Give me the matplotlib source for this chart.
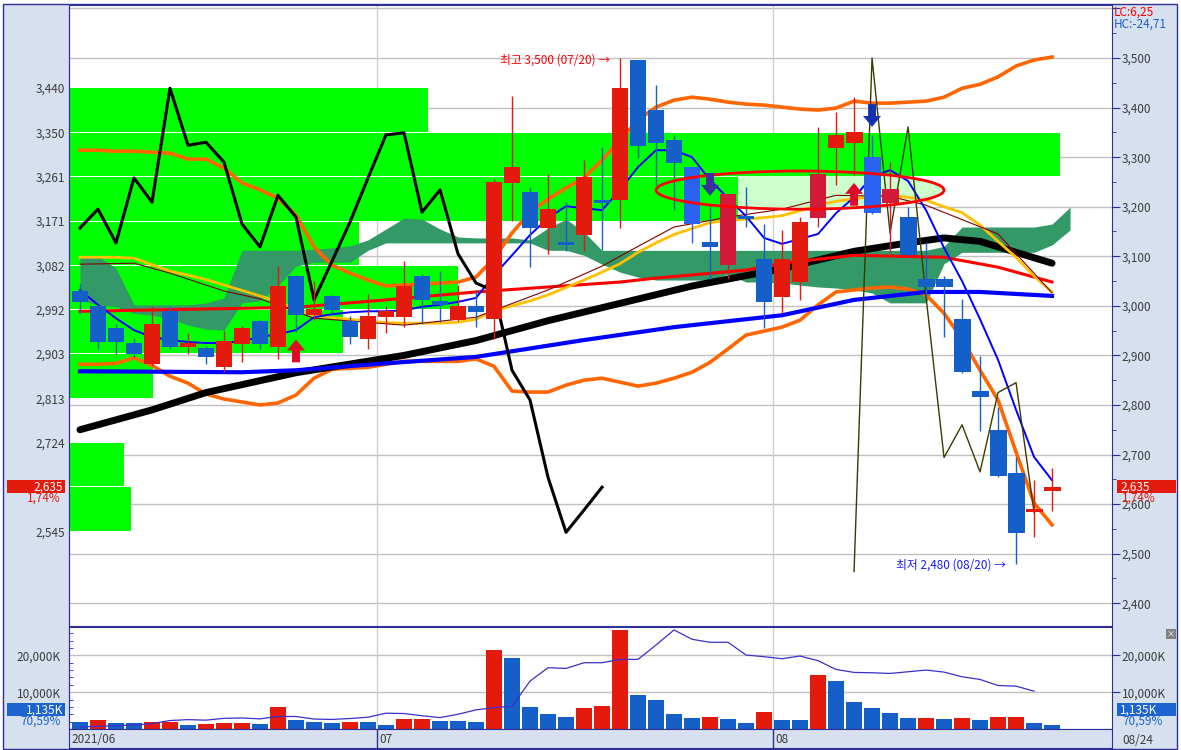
import numpy as np
import pandas as pd
import matplotlib
matplotlib.use("Agg")
import matplotlib.pyplot as plt
from matplotlib.patches import Rectangle, Ellipse, Polygon
from matplotlib.ticker import MultipleLocator
from matplotlib.transforms import blended_transform_factory as blend

plt.rcParams['font.family'] = ['Noto Sans CJK KR', 'DejaVu Sans']

# sessions shown (08/16 was the Liberation Day substitute holiday)
dates = pd.bdate_range("2021-06-08", "2021-08-24")
dates = dates[dates != pd.Timestamp("2021-08-16")]

opens = [3030, 3000, 2956, 2925, 2883, 2990, 2917, 2915, 2877, 2923,
         2970, 2917, 3060, 2982, 3020, 2970, 2934, 2978, 2978, 3060,
         3010, 2972, 3000, 2974, 3248, 3230, 3157, 3129, 3143, 3212,
         3214, 3496, 3395, 3335, 3280, 3129, 3083, 3180, 3095, 3018,
         3048, 3177, 3319, 3329, 3300, 3208, 3179, 3054, 3054, 2974,
         2829, 2750, 2663, 2585, 2627]
highs = [3044, 3002, 2964, 2936, 3000, 3000, 2946, 2919, 2950, 2960,
         2972, 3081, 3062, 3050, 3022, 2980, 3024, 3000, 3091, 3064,
         3071, 3042, 3032, 3256, 3423, 3240, 3266, 3210, 3294, 3321,
         3500, 3496, 3446, 3345, 3282, 3206, 3226, 3240, 3165, 3153,
         3179, 3361, 3391, 3421, 3345, 3290, 3200, 3129, 3060, 3014,
         2899, 2796, 2696, 2649, 2673]
lows = [2984, 2913, 2903, 2897, 2879, 2913, 2903, 2883, 2867, 2887,
        2913, 2893, 2948, 2972, 2982, 2923, 2913, 2946, 2958, 2964,
        2968, 2970, 2958, 2934, 3171, 3079, 3105, 3111, 3111, 3113,
        3157, 3298, 3244, 3194, 3127, 3054, 3054, 3159, 2956, 2986,
        3012, 3159, 3244, 3264, 3186, 3107, 3101, 3018, 2938, 2865,
        2748, 2655, 2480, 2534, 2587]
closes = [3008, 2927, 2927, 2903, 2964, 2917, 2925, 2897, 2929, 2956,
          2923, 3040, 2982, 2994, 2992, 2938, 2980, 2990, 3040, 3012,
          3002, 3000, 2988, 3250, 3280, 3157, 3196, 3123, 3260, 3208,
          3440, 3323, 3329, 3288, 3165, 3119, 3226, 3176, 3008, 3095,
          3169, 3266, 3345, 3351, 3188, 3236, 3103, 3038, 3038, 2867,
          2817, 2657, 2542, 2590, 2635]

# volume in thousand shares, and its moving average
volume = [1818, 2364, 1545, 1540, 1818, 1909, 1000, 1273, 1545, 1550,
          1273, 5909, 2364, 1818, 1545, 1818, 1800, 1000, 2636, 2650,
          2091, 2080, 1818, 21455, 19273, 5909, 4000, 3182, 5636, 6182,
          26909, 9182, 7818, 4000, 2909, 3182, 2636, 1545, 4545, 2364,
          2350, 14636, 13000, 7273, 5636, 4273, 2909, 2920, 2636, 2909,
          2364, 3182, 3200, 1608, 1135.1]
vol_ma = [545, 727, 909, 1091, 1455, 2300, 2545, 2400, 2900, 3000,
          2750, 3400, 3400, 2700, 2600, 2850, 3200, 4300, 4200, 3600,
          3091, 4000, 5200, 5800, 6182, 13000, 16636, 16455, 18000, 18000,
          18909, 18909, 22818, 26909, 24364, 23545, 23545, 20091, 19636, 19091,
          19818, 18545, 16182, 15364, 15273, 15091, 15545, 16000, 15455, 14182,
          13455, 11818, 11636, 10273]

ma5 = [3032, 3002, 2975, 2951, 2937, 2931, 2927, 2925, 2925, 2929,
       2937, 2943, 2951, 2977, 2983, 2987, 2989, 2989, 2991, 2998,
       3002, 3008, 3016, 3062, 3102, 3143, 3177, 3201, 3197, 3193,
       3234, 3280, 3314, 3314, 3300, 3254, 3217, 3181, 3137, 3125,
       3135, 3145, 3187, 3219, 3260, 3274, 3252, 3193, 3117, 3050,
       2973, 2891, 2790, 2695, 2648]
bb_upper = [3314, 3314, 3312, 3312, 3310, 3308, 3296, 3296, 3278, 3248,
            3234, 3217, 3183, 3119, 3082, 3066, 3052, 3040, 3042, 3044,
            3046, 3048, 3058, 3096, 3147, 3189, 3215, 3238, 3258, 3294,
            3334, 3375, 3401, 3415, 3421, 3417, 3411, 3407, 3405, 3401,
            3397, 3395, 3399, 3413, 3409, 3409, 3411, 3413, 3421, 3439,
            3447, 3462, 3484, 3496, 3502]
bb_lower = [2882, 2882, 2884, 2895, 2880, 2858, 2844, 2822, 2812, 2806,
            2800, 2804, 2820, 2854, 2872, 2874, 2876, 2882, 2888, 2888,
            2888, 2888, 2893, 2878, 2828, 2826, 2826, 2840, 2850, 2854,
            2846, 2838, 2844, 2854, 2866, 2886, 2913, 2941, 2949, 2957,
            2971, 3002, 3028, 3032, 3036, 3038, 3034, 3022, 2985, 2933,
            2870, 2810, 2705, 2602, 2558]
ma_yellow = [3098, 3098, 3098, 3096, 3083, 3070, 3062, 3053, 3042, 3031,
             3020, 3008, 2994, 2980, 2976, 2973, 2969, 2966, 2965, 2965,
             2965, 2967, 2973, 2990, 3000, 3010, 3022, 3037, 3052, 3068,
             3085, 3108, 3127, 3144, 3156, 3168, 3172, 3175, 3178, 3182,
             3192, 3203, 3211, 3216, 3220, 3223, 3219, 3213, 3200, 3188,
             3163, 3130, 3098, 3060, 3028]
maroon_idx = [0, 3, 5, 8, 10, 13, 18, 22, 23, 26, 29, 31, 33, 36, 39, 42, 45, 47, 51, 54]
maroon_val = [3084, 3086, 3066, 3030, 3014, 2975, 2961, 2977, 2991, 3032,
              3080, 3120, 3159, 3179, 3195, 3223, 3221, 3203, 3145, 3026]
red_idx = [0, 12, 17, 22, 30, 32, 37, 39, 43, 48, 51, 54]
red_val = [2989, 2997, 3012, 3028, 3048, 3056, 3072, 3086, 3102, 3098, 3078, 3048]
black_idx = [0, 4, 7, 12, 18, 22, 26, 30, 34, 39, 43, 46, 48, 50, 52, 54]
black_val = [2750, 2790, 2825, 2865, 2900, 2930, 2970, 3005, 3040, 3075,
             3110, 3127, 3137, 3130, 3108, 3086]
blue_idx = [0, 9, 12, 17, 22, 28, 33, 39, 43, 47, 50, 54]
blue_val = [2868, 2866, 2870, 2884, 2897, 2931, 2957, 2981, 3012, 3028, 3028, 3020]

zigzag = [3157, 3195, 3127, 3258, 3209, 3439, 3324, 3330, 3290, 3165,
          3119, 3223, 3179, 3012, 3090, 3169, 3258, 3345, 3349, 3189,
          3234, 3105, 3046, 3030, 2870, 2810, 2654, 2543, 2588, 2634]
olive_start = 43
olive = [2464, 3500, 3147, 3361, 3018, 2694, 2760, 2665, 2825, 2845, 2583]

cloud_top = [3098, 3100, 3076, 3002, 3002, 3002, 3002, 3006, 3016,
             3112, 3112, 3112, 3112, 3114, 3117, 3121,
             3133, 3155, 3177, 3175, 3155, 3139, 3137, 3137, 3137, 3133, 3157, 3175, 3149,
             3112, 3112, 3112, 3112, 3112, 3112, 3112, 3112, 3112, 3112,
             3112, 3112, 3112, 3112, 3112, 3112, 3112, 3112, 3112,
             3120, 3159, 3159, 3159, 3159, 3159, 3165, 3199]
cloud_bot = [3012, 3002, 2998, 2985, 2981, 2975, 2961, 2953, 2951,
             3006, 3010, 3040, 3080, 3088, 3088, 3088,
             3112, 3127, 3127, 3127, 3127, 3127, 3127, 3127, 3127, 3127, 3112, 3112,
             3102, 3084, 3068, 3058, 3052, 3052, 3052, 3052, 3064, 3048, 3048,
             3046, 3042, 3038, 3036, 3032, 3026, 3006, 3006, 3006,
             3085, 3108, 3108, 3108, 3108, 3108, 3123, 3153]

# price-by-volume bins (edge prices) and share of the panel width (%)
profile_edges = [2545, 2635, 2724, 2813, 2903, 2992, 3082, 3171, 3261, 3350, 3440]
profile_share = [5.9, 5.3, 0, 8.1, 26.3, 37.3, 27.8, 64.1, 95.0, 34.4]

# signal arrows and highlighted zone
sig_idx = [12, 35, 43, 44]
sig_buy = [True, False, True, False]
zone_slots = (32, 48)
zone_prices = (3195, 3272)

W, H = 1181, 750
PANEL = "#d6e0ef"
EDGE = "#2f2f96"
RED = "#e41b0c"
BLUE = "#1560c8"
GRID = "#c0c0c0"
TXT = "#3c3c3c"
FS = 8.5

fig = plt.figure(figsize=(W / 100, H / 100), dpi=100)
fig.patch.set_facecolor("white")
fig.add_artist(Rectangle((3 / W, 1 / H), 1174 / W, 745 / H, transform=fig.transFigure,
                         fc=PANEL, ec=EDGE, lw=1, zorder=-5))


def box(x0, y0, x1, y1):
    return [x0 / W, 1 - y1 / H, (x1 - x0) / W, (y1 - y0) / H]


ax = fig.add_axes(box(69, 5, 1112, 626))
axv = fig.add_axes(box(69, 627, 1112, 729), sharex=ax)
axd = fig.add_axes(box(69, 729, 1112, 748), sharex=ax)

n = len(dates)
x = np.arange(n)
ax.set_xlim(-0.61, 57.33)
ax.set_ylim(2354, 3607)

for a in (ax, axv, axd):
    for s in a.spines.values():
        s.set_color(EDGE)
    a.tick_params(axis='x', bottom=False, labelbottom=False)

last, prev = closes[-1], closes[-2]

# price axis: right ticks every 100, left labels on profile edges
ax.yaxis.tick_right()
ticks = np.arange(2400, 3601, 100)
ax.set_yticks(ticks)
ax.set_yticklabels([f"{t:,}" if t < 3600 else "" for t in ticks])
ax.yaxis.set_minor_locator(MultipleLocator(50))
ax.tick_params(axis='y', which='major', direction='out', length=6, color=EDGE,
               labelcolor=TXT, labelsize=FS, pad=1)
ax.tick_params(axis='y', which='minor', direction='out', length=3, color=EDGE)
ax.grid(axis='y', which='major', color=GRID, lw=1)
ax.set_axisbelow(True)
sec = ax.secondary_yaxis('left')
# the edge label sitting under the current-price box is hidden by it
sec.set_yticks(profile_edges,
               labels=["" if abs(v - last) < 20 else f"{v:,}" for v in profile_edges])
sec.tick_params(length=0, labelcolor=TXT, labelsize=FS, pad=3)
sec.spines['left'].set_color(EDGE)

bounds = [i - 0.5 for i in range(1, n) if dates[i].month != dates[i - 1].month]
for b in bounds:
    ax.axvline(b, color="#cfcfcf", lw=1, zorder=0.6)
    axv.axvline(b, color="#cfcfcf", lw=1, zorder=0.6)
    axd.axvline(b, color=EDGE, lw=1)

# highlight zone fill (under the profile)
zc = ((zone_slots[0] + zone_slots[1]) / 2, (zone_prices[0] + zone_prices[1]) / 2)
zw, zh = zone_slots[1] - zone_slots[0], zone_prices[1] - zone_prices[0]
ax.add_patch(Ellipse(zc, zw, zh, fc="#ccffcc", ec="none", zorder=1.2))

tr = blend(ax.transAxes, ax.transData)
for lo, hi, share in zip(profile_edges[:-1], profile_edges[1:], profile_share):
    if share > 0:
        ax.add_patch(Rectangle((0, lo + 1), share / 100, hi - lo - 2, transform=tr,
                               fc="#00ff00", ec="none", zorder=1.5))

ax.fill_between(np.arange(len(cloud_top)), cloud_top, cloud_bot, color="#339966", lw=0, zorder=2)

ax.plot(x, bb_upper, color="#ff6600", lw=2.6, zorder=3)
ax.plot(x, bb_lower, color="#ff6600", lw=2.6, zorder=3)
ax.plot(black_idx, black_val, color="black", lw=5, solid_capstyle='round', zorder=3)
ax.plot(blue_idx, blue_val, color="#0000ff", lw=3, zorder=3)
ax.plot(red_idx, red_val, color="#ff0000", lw=2.2, zorder=3)
ax.plot(x, ma_yellow, color="#ffc000", lw=2, zorder=3)
ax.plot(maroon_idx, maroon_val, color="#800000", lw=0.8, zorder=3)
ax.plot(x, ma5, color="#0000ff", lw=1.4, zorder=3.2)
ax.plot(np.arange(len(zigzag)), zigzag, color="black", lw=2.2, zorder=3.3)
ax.plot(np.arange(olive_start, olive_start + len(olive)), olive, color="#3b3b00", lw=1, zorder=3.3)

hl = {34: "#2a62f2", 36: "#d41a3a", 41: "#d41a3a", 44: "#2a62f2", 45: "#d41a3a"}
for i in x:
    o, h, l, c = opens[i], highs[i], lows[i], closes[i]
    col = hl.get(i, RED if c >= o else BLUE)
    ax.vlines(i, l, h, color=col, lw=1, zorder=4)
    lo_b, hgt = min(o, c), abs(c - o)
    if hgt < 6:
        lo_b, hgt = (o + c) / 2 - 3, 6
    ax.add_patch(Rectangle((i - 0.47, lo_b), 0.94, hgt, fc=col, ec="none", zorder=4))

ax.add_patch(Ellipse(zc, zw, zh, fc="none", ec="#ff0000", lw=2, zorder=5))

sig_colors = ["#e00a28", "#3d2d9e", "#e00a28", "#1432b0"]
for i, buy, col in zip(sig_idx, sig_buy, sig_colors):
    s = 1 if buy else -1
    tip = lows[i] - 16 if buy else highs[i] + 16
    neck, base = tip - s * 22, tip - s * 46
    pts = [(i, tip), (i + 0.5, neck), (i + 0.22, neck), (i + 0.22, base),
           (i - 0.22, base), (i - 0.22, neck), (i - 0.5, neck)]
    ax.add_patch(Polygon(pts, closed=True, fc=col, ec="none", zorder=6))

ih, il = int(np.argmax(highs)), int(np.argmin(lows))
ax.text(ih - 0.55, highs[ih] - 4, f"최고 {highs[ih]:,} ({dates[ih]:%m/%d}) →", ha='right', va='center',
        color="#ff0000", fontsize=FS, zorder=7)
ax.text(il - 0.55, lows[il] - 2, f"최저 {lows[il]:,} ({dates[il]:%m/%d}) →", ha='right', va='center',
        color="#1a1aff", fontsize=FS, zorder=7)

# volume panel
vcol = [BLUE if i == 0 or volume[i] < volume[i - 1] else RED for i in range(n)]
axv.bar(x, volume, width=0.92, color=vcol, zorder=2)
axv.plot(np.arange(len(vol_ma)), vol_ma, color="#3b2fc9", lw=0.9, zorder=3)
axv.set_ylim(0, 27700)
axv.yaxis.tick_right()
axv.set_yticks([10000, 20000], labels=["10,000K", "20,000K"])
axv.tick_params(axis='y', direction='out', length=6, color=EDGE, labelcolor=TXT, labelsize=FS, pad=1)
axv.grid(axis='y', color=GRID, lw=1)
axv.set_axisbelow(True)
secv = axv.secondary_yaxis('left')
secv.set_yticks([10000, 20000], labels=["10,000K", "20,000K"])
secv.yaxis.set_minor_locator(MultipleLocator(2000))
secv.tick_params(which='major', length=0, labelcolor=TXT, labelsize=FS, pad=6)
secv.tick_params(which='minor', direction='in', length=3, color=EDGE)
secv.spines['left'].set_color(EDGE)

# date band
axd.set_facecolor(PANEL)
axd.set_yticks([])
dtr = blend(axd.transData, axd.transAxes)
axd.text(-0.45, 0.45, f"{dates[0]:%Y/%m}", transform=dtr, va='center', fontsize=FS, color=TXT)
for b in bounds:
    axd.text(b + 0.12, 0.45, f"{dates[int(b + 0.5)]:%m}", transform=dtr, va='center', fontsize=FS, color=TXT)
fig.text(1122 / W, 1 - 740 / H, f"{dates[-1]:%m/%d}", va='center', fontsize=FS, color=TXT)


# side labels
def side_box(a, val, text, sub, fc, subcol, dy=0):
    yp = a.transData.transform((0, val))[1] + dy
    for x0, x1 in ((7, 65), (1117, 1176)):
        fig.add_artist(Rectangle((x0 / W, (yp - 6.5) / H), (x1 - x0) / W, 13 / H,
                                 transform=fig.transFigure, fc=fc, ec="none", zorder=10))
    fig.text(63 / W, yp / H, text, ha='right', va='center', color="white", fontsize=FS, zorder=11)
    fig.text(1120 / W, yp / H, text, ha='left', va='center', color="white", fontsize=FS, zorder=11)
    fig.text(61 / W, (yp - 11) / H, sub, ha='right', va='center', color=subcol, fontsize=FS, zorder=11)
    fig.text(1122 / W, (yp - 11) / H, sub, ha='left', va='center', color=subcol, fontsize=FS, zorder=11)


pct = (last - prev) / prev * 100
side_box(ax, last, f"{last:,}", f"{pct:.2f}%".replace('.', ','), RED, RED)
vpct = volume[-1] / volume[-2] * 100
side_box(axv, volume[-1], f"{round(volume[-1]):,}K", f"{vpct:.2f}%".replace('.', ','),
         "#1c64d0", "#1c64d0", dy=15)

lc = (last - lows[il]) / lows[il] * 100
hc = (last - highs[ih]) / highs[ih] * 100
fig.text(1114 / W, 1 - 12 / H, f"LC:{lc:.2f}".replace('.', ','), va='center', color="#ff0000", fontsize=FS)
fig.text(1114 / W, 1 - 24 / H, f"HC:{hc:.2f}".replace('.', ','), va='center', color="#1a5fd0", fontsize=FS)
fig.text(1171 / W, 1 - 634 / H, "×", ha='center', va='center', color="white", fontsize=6,
         bbox=dict(boxstyle='square,pad=0.1', fc="#808080", ec="none"))

fig.savefig("out.png", dpi=100)
